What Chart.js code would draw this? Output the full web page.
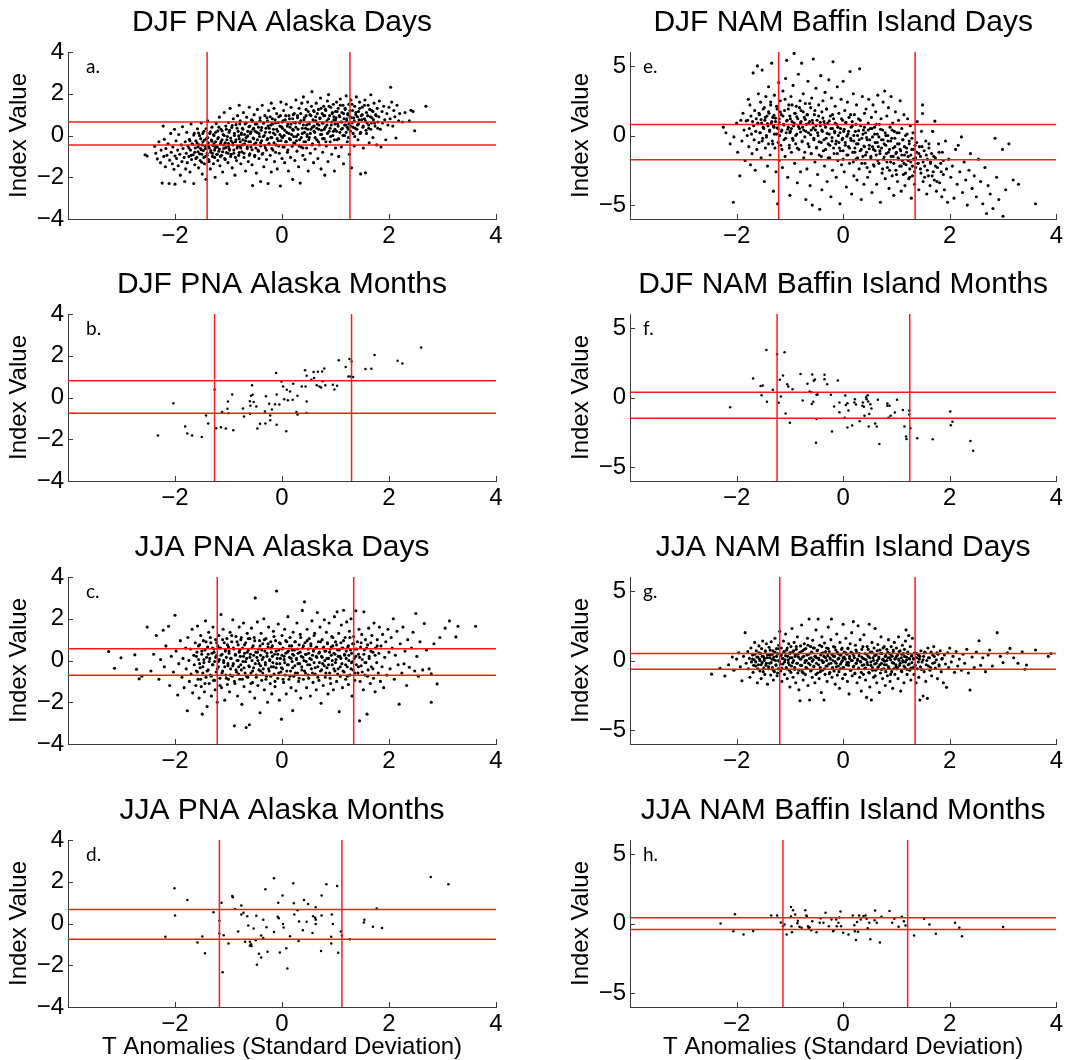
<!DOCTYPE html>
<html>
<head>
<meta charset="utf-8">
<script src="https://cdn.jsdelivr.net/npm/chart.js@4.4.1/dist/chart.umd.min.js"></script>
<style>
  body { margin: 0; background: #fff; width: 1066px; height: 1060px; overflow: hidden; position: relative; }
  .panel { position: absolute; }
</style>
</head>
<body>
<script>
// ---- data ----
// days clouds (T anomaly, index value): spread of each cloud ...
const djfPnaDays = [
  [-2.56,-0.92],[-2.52,-0.98],[-2.38,-0.52],[-2.36,-0.85],[-2.33,-1.12],[-2.3,-0.3],[-2.27,-1.3],[-2.26,-0.7],[-2.24,-2.28],[-2.22,0.45],[-2.21,-1.0],[-2.2,-0.18],
  [-2.18,-1.5],[-2.17,-0.62],[-2.15,-0.95],[-2.13,-0.4],[-2.11,-2.3],[-2.1,-1.18],[-2.08,0.1],[-2.07,-0.8],[-2.05,-1.35],[-2.04,-0.55],[-2.02,-1.62],[-2.01,0.3],[-2.0,-0.98],[-2.0,-2.33],
  [-1.98,-0.25],[-1.97,-1.1],[-1.95,-0.7],[-1.94,-1.45],[-1.93,0.05],[-1.91,-0.9],[-1.9,-1.9],[-1.88,-0.45],[-1.87,-1.25],[-1.86,0.42],[-1.85,-0.62],[-1.83,-1.05],[-1.82,-2.2],[-1.81,-0.3],[-1.8,-1.6],
  [-1.79,-0.85],[-1.78,0.15],[-1.77,-1.3],[-1.76,-0.5],[-1.74,-1.0],[-1.73,-0.18],[-1.72,-1.75],[-1.71,-0.7],[-1.7,0.55],[-1.69,-1.15],[-1.68,-0.4],[-1.66,-0.92],[-1.65,-2.3],[-1.64,0.1],[-1.63,-1.4],[-1.62,-0.6],[-1.61,-0.25],
  [-1.59,-1.05],[-1.58,0.32],[-1.57,-0.78],[-1.56,-1.55],[-1.55,-0.45],[-1.54,0.0],[-1.53,-1.2],[-1.52,-0.62],[-1.51,0.6],[-1.5,-0.9],[-1.49,-1.85],[-1.48,-0.3],[-1.47,-0.72],[-1.46,0.2],[-1.45,-1.35],[-1.44,-0.5],[-1.43,-1.0],[-1.42,-2.1],[-1.41,-0.15],[-1.4,-0.85],
  [-1.39,0.7],[-1.38,-0.35],[-1.37,-1.15],[-1.36,-0.6],[-1.35,0.1],[-1.34,-1.6],[-1.33,-0.8],[-1.32,-0.22],[-1.31,0.4],[-1.3,-1.0],[-1.29,-0.48],[-1.28,-1.35],[-1.27,0.0],[-1.26,-0.7],[-1.25,-2.0],[-1.24,-0.3],[-1.23,0.58],[-1.22,-0.9],[-1.21,-0.55],[-1.2,-1.2],[-1.2,0.22],
  [-1.19,-0.1],[-1.18,-0.75],[-1.17,0.88],[-1.16,-1.45],[-1.15,-0.4],[-1.14,0.3],[-1.13,-0.95],[-1.12,-0.2],[-1.11,-1.75],[-1.1,0.05],[-1.09,-0.62],[-1.08,1.1],[-1.07,-1.1],[-1.06,-0.35],[-1.05,0.45],[-1.04,-0.82],[-1.03,-2.3],[-1.02,-0.05],[-1.01,-1.3],[-1.0,0.62],[-1.0,-0.5],
  [-0.99,0.15],[-0.98,-0.7],[-0.97,1.3],[-0.96,-1.0],[-0.95,-0.25],[-0.94,0.38],[-0.93,-1.55],[-0.92,-0.45],[-0.91,0.8],[-0.9,-0.85],[-0.89,0.0],[-0.88,-1.9],[-0.87,-0.3],[-0.86,0.52],[-0.85,-1.2],[-0.84,-0.6],[-0.83,0.95],[-0.82,0.2],[-0.81,-0.95],[-0.8,-0.15],[-0.8,1.45],
  [-0.79,-0.5],[-0.78,0.7],[-0.77,-1.35],[-0.76,0.05],[-0.75,-0.78],[-0.74,0.35],[-0.73,-0.2],[-0.72,1.1],[-0.71,-1.05],[-0.7,-0.4],[-0.69,0.55],[-0.68,-1.7],[-0.67,-0.1],[-0.66,0.88],[-0.65,-0.62],[-0.64,0.2],[-0.63,-1.25],[-0.62,-0.3],[-0.61,1.35],[-0.6,0.45],[-0.6,-0.88],
  [-0.59,0.1],[-0.58,-0.55],[-0.57,0.75],[-0.56,-1.4],[-0.55,-2.4],[-0.54,0.3],[-0.53,-0.15],[-0.52,1.0],[-0.51,-0.95],[-0.5,0.55],[-0.49,-0.35],[-0.48,-1.8],[-0.47,0.15],[-0.46,1.25],[-0.45,-0.7],[-0.44,0.4],[-0.43,-1.1],[-0.42,-0.05],[-0.41,0.85],[-0.4,-0.5],[-0.4,-2.2],
  [-0.39,0.25],[-0.38,-0.25],[-0.37,1.45],[-0.36,-0.85],[-0.35,0.6],[-0.34,-1.5],[-0.33,0.0],[-0.32,0.95],[-0.31,-0.6],[-0.3,0.35],[-0.29,-1.15],[-0.28,-0.2],[-0.27,0.7],[-0.26,-2.3],[-0.25,1.2],[-0.24,-0.4],[-0.23,0.15],[-0.22,-0.95],[-0.21,0.5],[-0.2,-1.75],[-0.2,1.55],
  [-0.19,-0.1],[-0.18,0.8],[-0.17,-0.7],[-0.16,0.3],[-0.15,1.3],[-0.14,-1.25],[-0.13,0.05],[-0.12,0.6],[-0.11,-0.45],[-0.1,1.05],[-0.09,-1.6],[-0.08,0.2],[-0.07,-0.25],[-0.06,0.9],[-0.05,-0.85],[-0.04,0.45],[-0.03,-2.42],[-0.02,1.6],[-0.01,-0.05],[0.0,0.65],[0.0,-1.1],
  [0.01,0.35],[0.02,-0.55],[0.03,1.2],[0.04,0.0],[0.05,-1.3],[0.06,0.75],[0.07,-0.3],[0.08,1.5],[0.09,0.15],[0.1,-0.8],[0.11,0.55],[0.12,-1.7],[0.13,0.95],[0.14,-0.15],[0.15,0.4],[0.16,-1.05],[0.17,1.35],[0.18,0.05],[0.19,-0.5],[0.2,0.8],[0.2,-2.1],
  [0.21,0.25],[0.22,-0.35],[0.23,1.05],[0.24,-1.2],[0.25,0.6],[0.26,1.7],[0.27,-0.05],[0.28,-0.75],[0.29,0.95],[0.3,0.3],[0.31,-1.5],[0.32,1.3],[0.33,-0.2],[0.34,-2.28],[0.35,0.7],[0.36,-0.55],[0.37,1.55],[0.38,0.1],[0.39,-0.95],[0.4,0.5],[0.4,1.85],
  [0.41,-0.3],[0.42,0.85],[0.43,-1.15],[0.44,0.35],[0.45,1.25],[0.46,-0.6],[0.47,0.05],[0.48,1.6],[0.49,-1.7],[0.5,0.6],[0.51,-0.1],[0.52,1.0],[0.53,-0.85],[0.54,0.3],[0.55,1.4],[0.56,2.1],[0.57,-0.4],[0.58,0.75],[0.59,-1.3],[0.6,0.45],[0.6,1.15],
  [0.61,0.15],[0.62,-0.65],[0.63,0.9],[0.64,1.55],[0.65,-0.2],[0.66,0.55],[0.67,-1.1],[0.68,1.25],[0.69,0.3],[0.7,-0.45],[0.71,0.8],[0.72,1.8],[0.73,-1.6],[0.74,0.05],[0.75,1.05],[0.76,-0.8],[0.77,0.6],[0.78,1.4],[0.79,-0.15],[0.8,0.95],[0.8,-1.9],
  [0.81,0.4],[0.82,1.2],[0.83,-0.5],[0.84,0.7],[0.85,1.65],[0.86,-1.25],[0.87,1.96],[0.88,0.2],[0.89,0.95],[0.9,-0.3],[0.91,1.35],[0.92,0.5],[0.93,-0.9],[0.94,1.05],[0.95,0.0],[0.96,1.5],[0.97,0.75],[0.98,-1.7],[0.99,0.3],[1.0,1.15],[1.0,-0.6],
  [1.01,0.85],[1.02,1.6],[1.03,-0.2],[1.04,0.55],[1.05,1.3],[1.06,-1.0],[1.07,0.95],[1.08,0.15],[1.09,1.75],[1.1,0.65],[1.11,-0.55],[1.12,1.1],[1.13,0.35],[1.14,1.45],[1.15,-1.35],[1.16,0.8],[1.17,0.0],[1.18,1.25],[1.19,0.5],[1.2,1.9],
  [1.21,0.7],[1.22,-0.3],[1.23,1.05],[1.24,0.3],[1.25,1.5],[1.26,-0.9],[1.27,0.9],[1.28,0.45],[1.29,1.7],[1.3,-1.55],[1.31,0.6],[1.32,1.2],[1.33,0.1],[1.34,0.85],[1.35,-0.5],[1.36,1.4],[1.37,0.35],[1.38,1.0],[1.39,1.85],
  [1.41,0.5],[1.42,-0.2],[1.43,1.15],[1.44,0.75],[1.45,1.6],[1.46,0.1],[1.47,-1.84],[1.48,0.95],[1.5,1.35],[1.51,0.4],[1.52,-0.6],[1.54,0.8],[1.55,1.7],[1.56,-1.79],[1.57,0.25],[1.58,1.1],[1.59,0.6],
  [1.61,1.45],[1.62,0.35],[1.63,-0.35],[1.65,0.9],[1.66,1.95],[1.67,0.6],[1.68,1.2],[1.7,-0.1],[1.71,0.75],[1.72,1.55],[1.74,0.45],[1.75,1.0],[1.77,-0.45],[1.78,1.3],[1.79,0.65],
  [1.81,0.9],[1.82,1.65],[1.84,0.3],[1.85,-0.55],[1.87,1.15],[1.88,0.6],[1.9,1.4],[1.92,0.75],[1.94,-0.2],[1.96,1.05],[1.98,0.5],[2.0,1.35],
  [2.02,0.8],[2.03,2.31],[2.05,1.6],[2.07,0.45],[2.09,1.2],[2.11,0.9],[2.13,-0.12],[2.15,1.45],[2.18,0.7],[2.2,1.05],
  [2.25,0.65],[2.3,1.1],[2.38,0.7],[2.41,1.21],[2.45,1.15],[2.48,0.23],[2.69,1.4]
];
// ... and its dense core
const djfPnaDaysCore = [
  [-1.74,-0.6],[-1.72,-0.25],[-1.7,-0.95],[-1.67,-0.42],[-1.65,0.02],[-1.63,-0.8],[-1.61,-1.1],[-1.59,-0.35],[-1.57,-0.55],[-1.56,0.12],[-1.54,-0.88],[-1.52,-0.15],[-1.51,-0.68],[-1.5,-1.28],
  [-1.49,-0.45],[-1.48,0.1],[-1.46,-1.05],[-1.45,-0.22],[-1.43,-0.62],[-1.42,0.32],[-1.4,-0.95],[-1.39,-0.1],[-1.37,-0.5],[-1.36,-1.25],[-1.34,0.18],[-1.33,-0.72],[-1.31,-0.28],[-1.3,-0.85],[-1.28,0.05],[-1.27,-0.4],[-1.26,-1.05],[-1.25,-0.6],
  [-1.24,0.15],[-1.23,-0.52],[-1.21,-0.9],[-1.2,-0.15],[-1.18,0.4],[-1.17,-0.65],[-1.15,-1.0],[-1.14,-0.3],[-1.12,0.22],[-1.11,-0.78],[-1.09,-0.45],[-1.08,0.0],[-1.06,-1.15],[-1.05,-0.58],[-1.04,0.3],[-1.03,-0.2],[-1.01,-0.85],[-1.0,-0.38],
  [-0.99,-0.62],[-0.98,0.25],[-0.96,-0.12],[-0.95,-0.9],[-0.93,0.48],[-0.92,-0.35],[-0.9,-0.7],[-0.89,0.1],[-0.87,-1.05],[-0.86,-0.2],[-0.84,0.35],[-0.83,-0.5],[-0.81,-0.02],[-0.8,-0.82],[-0.79,0.55],[-0.78,-0.3],[-0.77,-0.6],[-0.76,0.12],
  [-0.74,-0.45],[-0.73,0.3],[-0.71,-0.85],[-0.7,0.05],[-0.68,-0.25],[-0.67,0.6],[-0.65,-0.55],[-0.64,-0.02],[-0.62,0.42],[-0.61,-0.95],[-0.59,-0.3],[-0.58,0.18],[-0.56,-0.68],[-0.55,0.7],[-0.54,-0.12],[-0.53,0.35],[-0.52,-0.42],[-0.51,-1.0],
  [-0.5,0.2],[-0.49,-0.6],[-0.47,0.55],[-0.46,-0.2],[-0.44,-0.75],[-0.43,0.1],[-0.41,0.72],[-0.4,-0.35],[-0.38,0.38],[-0.37,-0.9],[-0.35,-0.05],[-0.34,0.6],[-0.32,-0.48],[-0.31,0.15],[-0.29,-0.7],[-0.28,0.85],[-0.27,-0.15],[-0.26,0.45],
  [-0.25,-0.4],[-0.24,0.35],[-0.22,0.9],[-0.21,-0.1],[-0.19,-0.62],[-0.18,0.55],[-0.16,0.12],[-0.15,-0.35],[-0.13,0.75],[-0.12,-0.8],[-0.1,0.3],[-0.09,-0.15],[-0.07,0.62],[-0.06,-0.5],[-0.04,0.05],[-0.03,0.95],[-0.02,-0.25],[-0.01,0.42],
  [0.01,-0.1],[0.02,0.7],[0.04,-0.55],[0.05,0.25],[0.07,0.95],[0.08,-0.3],[0.1,0.45],[0.11,-0.7],[0.13,0.1],[0.14,0.8],[0.16,-0.2],[0.17,0.55],[0.19,-0.5],[0.2,0.3],[0.21,1.0],[0.22,-0.05],[0.23,0.62],[0.24,-0.38],
  [0.26,0.4],[0.27,-0.25],[0.29,0.85],[0.3,0.05],[0.32,-0.5],[0.33,0.6],[0.35,1.05],[0.36,-0.1],[0.38,0.35],[0.39,-0.6],[0.41,0.75],[0.42,0.15],[0.44,-0.3],[0.45,0.95],[0.46,0.5],[0.47,-0.05],[0.48,0.3],[0.49,1.15],
  [0.5,-0.2],[0.51,0.55],[0.53,0.1],[0.54,0.95],[0.56,-0.45],[0.57,0.4],[0.59,1.2],[0.6,0.2],[0.62,-0.1],[0.63,0.7],[0.65,0.35],[0.66,1.05],[0.68,-0.3],[0.69,0.5],[0.71,0.85],[0.72,0.05],[0.73,1.3],[0.74,0.25],
  [0.75,0.6],[0.76,-0.15],[0.78,0.95],[0.79,0.3],[0.81,1.25],[0.82,-0.3],[0.84,0.5],[0.85,0.1],[0.87,0.8],[0.88,1.4],[0.9,0.35],[0.91,-0.05],[0.93,0.65],[0.94,1.1],[0.96,0.2],[0.97,0.9],[0.98,-0.2],[0.99,0.55],
  [1.0,0.75],[1.02,0.2],[1.03,1.15],[1.05,0.45],[1.06,-0.15],[1.08,0.9],[1.09,1.45],[1.11,0.3],[1.12,0.65],[1.14,0.0],[1.15,1.05],[1.17,0.5],[1.18,1.3],[1.2,0.15],[1.21,0.8],[1.22,0.4],[1.23,1.0],[1.24,-0.1],
  [1.25,0.55],[1.27,1.2],[1.28,0.2],[1.3,0.85],[1.31,1.5],[1.33,0.4],[1.35,0.7],[1.36,-0.05],[1.38,1.1],[1.4,0.3],[1.41,0.9],[1.43,0.55],[1.45,1.3],[1.47,0.15],[1.49,0.75],
  [1.5,1.0],[1.52,0.45],[1.54,1.45],[1.56,0.7],[1.58,0.1],[1.6,0.95],[1.62,0.5],[1.64,1.25],[1.66,0.3],[1.68,0.85],[1.7,1.15],[1.73,0.6],[1.76,0.95],[1.79,0.35]
];

const djfNamDays = [
  [-2.25,0.6],[-2.2,0.2],[-2.12,-0.6],[-2.06,-4.8],[-2.05,-0.1],[-2.0,0.9],[-1.98,-1.2],[-1.94,-2.9],[-1.92,1.1],[-1.9,-0.4],[-1.88,1.6],[-1.86,0.4],[-1.84,-1.8],[-1.82,1.05],[-1.8,0.0],
  [-1.79,1.1],[-1.78,2.6],[-1.77,-0.8],[-1.76,0.5],[-1.75,2.2],[-1.74,-2.1],[-1.73,1.4],[-1.72,0.1],[-1.71,-1.3],[-1.7,1.0],[-1.69,4.5],[-1.68,0.7],[-1.67,-0.3],[-1.66,1.8],[-1.65,-2.5],[-1.64,0.3],[-1.63,1.2],[-1.62,-1.0],[-1.61,5.0],[-1.6,0.85],
  [-1.59,3.0],[-1.58,-0.5],[-1.57,1.5],[-1.56,0.2],[-1.55,2.4],[-1.54,-1.6],[-1.53,0.9],[-1.52,4.7],[-1.51,-0.2],[-1.5,1.9],[-1.49,0.5],[-1.48,-3.3],[-1.47,1.1],[-1.46,-0.9],[-1.45,2.8],[-1.44,0.0],[-1.43,1.4],[-1.42,-2.2],[-1.41,0.7],[-1.4,3.5],[-1.4,-0.6],
  [-1.39,1.6],[-1.38,0.3],[-1.37,-1.4],[-1.36,2.2],[-1.35,0.9],[-1.34,5.2],[-1.33,-0.4],[-1.32,1.3],[-1.31,-4.0],[-1.3,0.6],[-1.29,2.9],[-1.28,-0.9],[-1.27,1.0],[-1.26,-2.6],[-1.25,0.1],[-1.24,1.9],[-1.23,-4.9],[-1.22,0.5],[-1.21,3.8],[-1.2,-1.8],[-1.2,1.2],
  [-1.19,0.0],[-1.18,2.5],[-1.17,-0.7],[-1.16,1.5],[-1.15,0.4],[-1.14,-2.3],[-1.13,3.2],[-1.12,0.8],[-1.11,-0.3],[-1.1,1.8],[-1.09,-1.5],[-1.08,4.1],[-1.07,0.2],[-1.06,5.4],[-1.05,1.1],[-1.04,-3.0],[-1.03,0.6],[-1.02,2.2],[-1.01,-0.9],[-1.0,1.4],[-1.0,-4.3],
  [-0.99,0.3],[-0.98,2.8],[-0.97,-1.2],[-0.96,1.0],[-0.95,-0.2],[-0.94,3.6],[-0.93,0.7],[-0.92,5.9],[-0.91,-2.0],[-0.9,1.6],[-0.89,-0.6],[-0.88,2.1],[-0.87,0.1],[-0.86,-3.4],[-0.85,1.2],[-0.84,4.4],[-0.83,-1.0],[-0.82,0.5],[-0.81,2.5],[-0.8,-2.6],[-0.8,0.9],
  [-0.79,1.8],[-0.78,5.2],[-0.77,-0.4],[-0.76,0.6],[-0.75,3.0],[-0.74,-1.6],[-0.73,1.3],[-0.72,-0.1],[-0.71,2.3],[-0.7,-4.6],[-0.69,0.8],[-0.68,-2.4],[-0.67,1.5],[-0.66,3.9],[-0.65,0.2],[-0.64,-0.8],[-0.63,1.0],[-0.62,-3.6],[-0.61,2.0],[-0.6,0.4],[-0.6,-1.3],
  [-0.59,2.7],[-0.58,-5.0],[-0.57,0.9],[-0.56,5.5],[-0.55,-0.3],[-0.54,1.5],[-0.53,-1.9],[-0.52,0.4],[-0.51,3.4],[-0.5,-0.9],[-0.49,1.1],[-0.48,-2.8],[-0.47,0.0],[-0.46,2.2],[-0.45,-1.4],[-0.44,-5.3],[-0.43,0.7],[-0.42,4.3],[-0.41,-0.5],[-0.4,1.7],[-0.4,-3.9],
  [-0.39,0.3],[-0.38,2.5],[-0.37,-1.1],[-0.36,1.0],[-0.35,-2.2],[-0.34,3.1],[-0.33,0.6],[-0.32,-0.2],[-0.31,1.9],[-0.3,-3.3],[-0.29,0.9],[-0.28,-1.6],[-0.27,4.0],[-0.26,0.1],[-0.25,-0.7],[-0.24,1.4],[-0.23,-4.4],[-0.22,2.7],[-0.21,-0.4],[-0.2,0.5],[-0.2,-2.5],
  [-0.19,5.3],[-0.18,1.2],[-0.17,-1.3],[-0.16,0.2],[-0.15,2.1],[-0.14,-0.6],[-0.13,-3.0],[-0.12,0.8],[-0.11,3.5],[-0.1,-1.8],[-0.09,0.0],[-0.08,1.6],[-0.07,-0.9],[-0.06,-4.9],[-0.05,0.5],[-0.04,2.6],[-0.03,-2.1],[-0.02,-0.3],[-0.01,1.1],[0.0,3.9],[0.0,-1.1],
  [0.01,0.3],[0.02,-2.6],[0.03,1.8],[0.04,-0.5],[0.05,0.9],[0.06,-3.7],[0.07,-1.4],[0.08,2.4],[0.09,0.1],[0.1,-0.8],[0.11,1.3],[0.12,-2.0],[0.13,4.6],[0.14,-0.2],[0.15,0.6],[0.16,-4.2],[0.17,1.0],[0.18,-1.2],[0.19,3.0],[0.2,-0.4],[0.2,-2.9],
  [0.21,1.5],[0.22,-0.9],[0.23,0.3],[0.24,-1.7],[0.25,2.2],[0.26,-3.2],[0.27,0.0],[0.28,-0.6],[0.29,1.2],[0.3,-2.4],[0.31,4.8],[0.32,-1.1],[0.33,0.7],[0.34,-4.6],[0.35,-0.2],[0.36,2.8],[0.37,-1.5],[0.38,0.4],[0.39,-3.5],[0.4,1.6],[0.4,-0.8],
  [0.41,-2.0],[0.42,0.2],[0.43,1.9],[0.44,-1.2],[0.45,-0.3],[0.46,-3.0],[0.47,0.9],[0.48,2.6],[0.49,-0.7],[0.5,-2.6],[0.51,0.5],[0.52,-1.6],[0.53,1.3],[0.54,-4.1],[0.55,-0.1],[0.56,2.2],[0.57,-1.0],[0.58,-2.2],[0.59,0.6],[0.6,-0.5],
  [0.61,1.7],[0.62,-1.4],[0.63,-3.5],[0.64,0.1],[0.65,2.9],[0.66,-0.8],[0.67,-2.0],[0.68,0.8],[0.69,-1.1],[0.7,-4.8],[0.71,1.2],[0.72,-0.3],[0.73,-2.7],[0.74,0.4],[0.75,2.4],[0.76,-1.7],[0.77,-0.6],[0.78,3.2],[0.79,-3.1],[0.8,0.0],
  [0.81,-1.3],[0.82,1.4],[0.83,-2.3],[0.84,-0.4],[0.85,2.0],[0.86,-3.8],[0.87,-1.0],[0.88,0.6],[0.89,-1.9],[0.9,2.8],[0.91,-0.2],[0.92,-2.9],[0.93,0.9],[0.94,-1.5],[0.95,-4.3],[0.96,0.3],[0.97,-0.8],[0.98,1.7],[0.99,-2.5],[1.0,-1.2],
  [1.01,0.2],[1.02,-3.3],[1.03,-1.6],[1.04,1.1],[1.05,-0.6],[1.06,-2.2],[1.07,2.5],[1.08,-1.1],[1.09,-4.0],[1.1,0.5],[1.11,-1.8],[1.12,-0.3],[1.13,-2.8],[1.14,1.5],[1.15,-1.4],[1.16,-3.6],[1.17,0.0],[1.18,-2.1],[1.19,-0.9],
  [1.21,1.2],[1.22,-1.5],[1.23,-3.1],[1.24,-0.4],[1.25,-2.4],[1.26,0.7],[1.27,-1.9],[1.28,-4.5],[1.29,-1.0],[1.3,-2.9],[1.31,0.2],[1.32,-1.7],[1.34,-3.5],[1.35,-0.7],[1.36,-2.3],[1.38,-1.2],[1.39,1.0],
  [1.41,-2.0],[1.42,-3.9],[1.43,-0.8],[1.45,-1.5],[1.46,-2.7],[1.47,0.3],[1.49,2.2],[1.49,1.58],[1.5,-3.3],[1.52,-1.1],[1.53,-2.2],[1.55,-0.4],[1.57,-4.2],[1.58,-1.7],[1.6,-2.9],
  [1.61,-0.9],[1.63,-3.6],[1.64,-2.0],[1.66,-1.3],[1.68,0.3],[1.69,-2.6],[1.71,-3.2],[1.72,1.03],[1.73,-1.6],[1.75,-4.0],[1.77,-2.3],[1.79,-0.6],
  [1.81,-3.4],[1.83,-2.0],[1.85,-4.4],[1.86,-1.2],[1.88,-2.8],[1.9,-3.9],[1.92,-0.4],[1.94,-2.4],[1.96,-4.8],[1.98,-1.7],
  [2.02,-3.0],[2.05,-2.2],[2.08,-4.5],[2.11,-1.0],[2.14,-3.5],[2.16,-0.7],[2.19,-2.6],[2.22,-0.1],[2.24,-4.1],[2.27,-1.9],[2.3,-3.2],[2.33,-5.0],[2.36,-2.5],[2.39,-1.3],
  [2.42,-3.8],[2.46,-2.9],[2.5,-4.4],[2.54,-1.7],[2.58,-3.3],[2.62,-4.9],[2.66,-2.3],[2.69,-5.6],[2.72,-3.6],[2.76,-4.2],[2.81,-5.25],[2.85,-0.2],[2.88,-3.0],[2.92,-4.6],[2.99,-1.0],[3.0,-5.8],[3.05,-3.9],[3.11,-0.6],[3.19,-3.2],[3.29,-3.5],[3.61,-4.9]
];
const djfNamDaysCore = [
  [-1.6,0.9],[-1.58,1.6],[-1.56,0.2],[-1.54,1.15],[-1.52,-0.4],[-1.5,0.6],[-1.48,2.0],[-1.46,1.3],[-1.44,-0.1],[-1.42,0.85],[-1.4,1.7],[-1.38,0.4],[-1.36,2.4],[-1.34,1.0],[-1.32,-0.6],[-1.31,0.7],[-1.3,1.45],
  [-1.29,0.1],[-1.27,1.25],[-1.25,2.1],[-1.24,0.55],[-1.22,-0.5],[-1.2,0.95],[-1.18,1.7],[-1.16,0.3],[-1.15,-1.0],[-1.13,1.4],[-1.11,0.75],[-1.09,2.6],[-1.08,-0.2],[-1.06,1.05],[-1.04,0.45],[-1.03,1.9],[-1.01,-0.7],[-1.0,0.2],
  [-0.99,1.2],[-0.97,0.5],[-0.96,2.2],[-0.94,-0.35],[-0.92,0.9],[-0.91,1.6],[-0.89,0.0],[-0.87,1.35],[-0.86,-0.9],[-0.84,0.65],[-0.82,2.0],[-0.8,0.25],[-0.79,1.0],[-0.77,-0.45],[-0.75,1.7],[-0.74,0.4],[-0.72,-1.2],[-0.71,1.15],
  [-0.7,0.3],[-0.68,1.5],[-0.66,-0.6],[-0.65,0.85],[-0.63,2.3],[-0.61,0.05],[-0.6,-1.3],[-0.58,1.1],[-0.56,0.55],[-0.55,-0.2],[-0.53,1.8],[-0.51,0.7],[-0.5,-0.85],[-0.48,0.2],[-0.46,1.4],[-0.45,-0.45],[-0.43,0.95],[-0.41,-1.5],
  [-0.4,0.4],[-0.38,1.25],[-0.36,-0.3],[-0.35,0.8],[-0.33,-1.0],[-0.31,1.9],[-0.3,0.15],[-0.28,-0.6],[-0.26,1.05],[-0.25,-1.6],[-0.23,0.5],[-0.21,-0.15],[-0.2,1.5],[-0.18,-0.9],[-0.16,0.3],[-0.15,0.9],[-0.13,-0.4],[-0.11,-1.3],
  [-0.1,0.6],[-0.08,-0.5],[-0.06,0.2],[-0.05,-1.1],[-0.03,1.2],[-0.01,-0.2],[0.0,-1.7],[0.02,0.45],[0.04,-0.7],[0.05,0.95],[0.07,-0.05],[0.09,-1.4],[0.1,0.3],[0.12,-0.9],[0.14,1.5],[0.15,-0.35],[0.17,0.7],[0.19,-1.9],
  [0.2,0.0],[0.22,-1.2],[0.24,0.8],[0.25,-0.6],[0.27,-1.6],[0.29,0.35],[0.3,-0.3],[0.32,1.1],[0.34,-1.0],[0.35,-2.0],[0.37,0.1],[0.39,-0.75],[0.4,0.6],[0.42,-1.4],[0.44,-0.15],[0.45,-2.3],[0.47,0.4],[0.49,-0.95],
  [0.5,-0.3],[0.52,-1.5],[0.54,0.5],[0.55,-0.8],[0.57,-2.1],[0.59,0.1],[0.6,-1.1],[0.62,0.8],[0.64,-0.5],[0.65,-1.8],[0.67,-0.1],[0.69,-1.3],[0.7,0.45],[0.72,-0.9],[0.74,-2.4],[0.75,-0.3],[0.77,-1.55],[0.79,0.2],
  [0.8,-0.7],[0.82,-1.9],[0.84,0.0],[0.85,-1.2],[0.87,-2.5],[0.89,-0.4],[0.9,-1.5],[0.92,0.4],[0.94,-0.9],[0.95,-2.0],[0.97,-0.2],[0.99,-1.3],[1.0,-2.8],[1.02,-0.6],[1.04,-1.7],[1.05,0.2],[1.07,-1.0],[1.09,-2.2],
  [1.1,-1.4],[1.12,-0.3],[1.14,-2.0],[1.15,-0.8],[1.17,-2.7],[1.19,-1.2],[1.2,0.1],[1.22,-1.8],[1.24,-0.6],[1.25,-3.0],[1.27,-1.4],[1.29,-0.2],[1.3,-2.2],[1.32,-1.0],[1.34,-2.6],[1.36,-1.6],[1.38,-0.5],[1.4,-2.0],
  [1.42,-1.3],[1.45,-2.4],[1.48,-0.8],[1.5,-1.9],[1.53,-3.0],[1.56,-1.4],[1.58,-2.5],[1.61,-0.6],[1.64,-1.9],[1.67,-2.9],[1.7,-1.5],[1.73,-2.2],[1.76,-3.3],[1.8,-1.2],[1.84,-2.6],[1.88,-1.8]
];

const jjaPnaDays = [
  [-3.24,0.43],[-3.13,-0.37],[-3.01,0.13],[-2.75,0.27],[-2.72,-0.42],[-2.67,-0.88],[-2.62,-0.75],[-2.52,1.6],[-2.45,-0.5],[-2.4,0.3],[-2.35,1.2],[-2.3,-0.9],[-2.27,0.05],[-2.22,1.45],
  [-2.2,-0.3],[-2.17,0.7],[-2.12,1.64],[-2.1,-1.2],[-2.07,0.2],[-2.03,-0.55],[-2.0,2.17],[-1.98,0.45],[-1.95,-1.65],[-1.93,-0.15],[-1.9,0.95],[-1.87,-0.8],[-1.85,0.1],[-1.83,-1.3],[-1.8,0.6],
  [-1.79,-0.4],[-1.77,-2.41],[-1.76,1.1],[-1.74,0.0],[-1.73,-1.0],[-1.71,0.55],[-1.7,-0.65],[-1.68,1.5],[-1.67,-1.55],[-1.65,0.25],[-1.64,-0.2],[-1.62,0.85],[-1.61,-1.2],[-1.6,-0.5],
  [-1.59,0.4],[-1.58,1.65],[-1.57,-0.9],[-1.56,0.05],[-1.55,-1.8],[-1.54,0.75],[-1.53,-0.35],[-1.52,1.2],[-1.51,-1.25],[-1.5,0.3],[-1.49,-2.57],[-1.48,-0.6],[-1.47,0.95],[-1.46,-0.1],[-1.45,-1.5],[-1.44,0.5],[-1.43,1.9],[-1.42,-0.8],[-1.41,0.15],[-1.4,-2.2],
  [-1.39,0.65],[-1.38,-0.45],[-1.37,1.35],[-1.36,-1.1],[-1.35,0.1],[-1.34,-0.7],[-1.33,0.85],[-1.32,-1.7],[-1.31,0.35],[-1.3,-0.2],[-1.29,1.6],[-1.28,-0.95],[-1.27,0.55],[-1.26,-0.05],[-1.25,-1.4],[-1.24,1.0],[-1.23,-0.55],[-1.22,0.25],[-1.21,-2.0],[-1.2,0.7],
  [-1.19,-0.3],[-1.18,1.2],[-1.17,0.05],[-1.16,-0.85],[-1.15,0.6],[-1.14,2.2],[-1.13,-1.3],[-1.12,0.3],[-1.11,-0.5],[-1.1,1.5],[-1.09,-0.1],[-1.08,0.85],[-1.07,-1.9],[-1.06,0.45],[-1.05,-0.7],[-1.04,0.15],[-1.03,1.05],[-1.02,-1.15],[-1.01,-0.25],[-1.0,0.65],[-1.0,-0.9],
  [-0.99,0.35],[-0.98,-1.5],[-0.97,1.35],[-0.96,-0.4],[-0.95,0.1],[-0.94,0.9],[-0.93,-0.75],[-0.92,1.95],[-0.91,-0.15],[-0.9,0.55],[-0.89,-3.13],[-0.88,-1.1],[-0.87,0.25],[-0.86,1.15],[-0.85,-0.55],[-0.84,0.0],[-0.83,-1.7],[-0.82,0.75],[-0.81,-0.3],[-0.8,1.6],[-0.8,0.4],
  [-0.79,-0.9],[-0.78,0.2],[-0.77,1.0],[-0.76,-0.45],[-0.75,-2.1],[-0.74,0.6],[-0.73,-0.05],[-0.72,1.8],[-0.71,-1.25],[-0.7,0.35],[-0.69,-0.6],[-0.68,0.85],[-0.67,-3.21],[-0.66,0.1],[-0.65,1.3],[-0.64,-0.8],[-0.63,0.5],[-0.62,-0.25],[-0.61,-3.08],[-0.6,1.05],[-0.6,-1.5],
  [-0.59,0.3],[-0.58,-0.6],[-0.57,1.55],[-0.56,0.0],[-0.55,-1.05],[-0.54,0.7],[-0.53,-0.35],[-0.52,1.1],[-0.51,-1.8],[-0.5,3.0],[-0.49,0.4],[-0.48,-0.7],[-0.47,0.15],[-0.46,1.85],[-0.45,-1.2],[-0.44,0.55],[-0.43,-0.15],[-0.42,0.95],[-0.41,-2.5],[-0.4,0.25],[-0.4,-0.5],
  [-0.39,1.3],[-0.38,-0.95],[-0.37,0.05],[-0.36,0.8],[-0.35,-0.4],[-0.34,2.0],[-0.33,-1.4],[-0.32,0.45],[-0.31,-0.2],[-0.3,1.05],[-0.29,-0.75],[-0.28,0.2],[-0.27,-2.0],[-0.26,0.65],[-0.25,1.6],[-0.24,-0.5],[-0.23,0.0],[-0.22,-1.1],[-0.21,0.9],[-0.2,-0.3],[-0.2,0.4],
  [-0.19,-1.6],[-0.18,0.7],[-0.17,-0.1],[-0.16,1.4],[-0.15,-0.65],[-0.14,0.3],[-0.13,-1.25],[-0.12,0.95],[-0.11,-0.35],[-0.1,3.33],[-0.09,0.1],[-0.08,-0.85],[-0.07,1.75],[-0.06,0.5],[-0.05,-1.9],[-0.04,-0.15],[-0.03,0.8],[-0.02,-0.55],[-0.01,-2.81],[0.0,0.25],[0.0,1.2],
  [0.01,-0.4],[0.02,0.6],[0.03,-1.05],[0.04,0.05],[0.05,1.5],[0.06,-0.7],[0.07,0.35],[0.08,-1.6],[0.09,0.9],[0.1,-0.2],[0.11,2.1],[0.12,0.45],[0.13,-0.9],[0.14,0.15],[0.15,1.1],[0.16,-0.5],[0.17,-1.3],[0.18,0.7],[0.19,-0.05],[0.2,-2.4],[0.2,0.3],
  [0.21,1.35],[0.22,-0.75],[0.23,0.5],[0.24,-0.25],[0.25,0.9],[0.26,-1.45],[0.27,0.1],[0.28,1.8],[0.29,-0.6],[0.3,0.35],[0.31,-1.0],[0.32,0.75],[0.33,-0.15],[0.34,1.25],[0.35,-1.8],[0.36,0.2],[0.37,-0.45],[0.38,2.4],[0.39,0.6],[0.4,-0.9],
  [0.41,0.0],[0.42,2.81],[0.43,0.85],[0.44,-0.6],[0.45,0.3],[0.46,-1.3],[0.47,1.5],[0.48,-0.2],[0.49,0.55],[0.5,-0.85],[0.51,1.05],[0.52,0.1],[0.53,-1.7],[0.54,0.7],[0.55,-0.4],[0.56,1.9],[0.57,0.25],[0.58,-1.05],[0.59,0.45],[0.6,-0.1],
  [0.61,1.3],[0.62,-0.65],[0.63,0.6],[0.64,-1.4],[0.65,0.15],[0.66,2.3],[0.67,-0.3],[0.68,0.9],[0.69,-0.95],[0.7,0.4],[0.71,1.6],[0.72,-0.5],[0.73,-2.05],[0.74,0.2],[0.75,1.0],[0.76,-0.15],[0.77,-1.2],[0.78,0.65],[0.79,1.95],[0.8,0.0],
  [0.81,-0.8],[0.82,0.45],[0.83,1.35],[0.84,-0.35],[0.85,0.8],[0.86,-1.6],[0.87,0.1],[0.88,1.8],[0.89,-0.6],[0.9,0.55],[0.91,-1.1],[0.92,0.25],[0.93,1.15],[0.94,-0.2],[0.95,0.7],[0.96,-1.4],[0.97,0.35],[0.98,2.1],[0.99,-0.5],[1.0,0.9],
  [1.01,0.05],[1.02,-1.0],[1.03,2.33],[1.04,0.5],[1.05,-0.4],[1.06,1.3],[1.07,-2.45],[1.08,0.2],[1.09,-0.75],[1.1,0.85],[1.11,1.7],[1.12,-0.15],[1.13,-1.3],[1.14,0.6],[1.15,2.41],[1.16,-0.55],[1.17,0.3],[1.18,1.1],[1.19,-0.9],[1.2,0.1],
  [1.21,1.85],[1.22,-0.3],[1.23,0.65],[1.24,-1.15],[1.25,0.25],[1.26,1.4],[1.27,-0.7],[1.28,0.5],[1.29,2.0],[1.3,-0.1],[1.31,-1.7],[1.32,0.8],[1.33,-0.45],[1.34,1.15],[1.35,0.1],[1.36,-0.95],[1.37,0.55],[1.38,2.38],[1.39,-0.2],
  [1.41,0.9],[1.42,-0.6],[1.43,0.3],[1.44,1.5],[1.45,-2.89],[1.46,-1.0],[1.47,0.65],[1.48,-0.25],[1.49,1.25],[1.5,0.05],[1.52,-1.4],[1.53,2.33],[1.54,0.5],[1.55,-0.7],[1.56,1.0],[1.57,-0.1],[1.59,-2.57],[1.6,0.75],
  [1.61,-0.45],[1.62,1.55],[1.63,0.2],[1.65,-1.1],[1.66,0.85],[1.67,-0.3],[1.68,1.2],[1.7,0.4],[1.71,-0.85],[1.72,1.8],[1.74,-1.5],[1.75,0.6],[1.77,-0.1],[1.78,1.0],[1.8,-0.6],
  [1.81,0.35],[1.82,1.6],[1.84,-1.0],[1.85,0.7],[1.87,-0.3],[1.88,1.25],[1.9,-1.3],[1.92,0.15],[1.94,0.9],[1.96,-0.7],[1.98,1.5],[2.0,0.4],
  [2.02,-0.4],[2.04,1.1],[2.06,0.6],[2.08,2.0],[2.1,-0.9],[2.12,0.25],[2.15,1.4],[2.17,-0.2],[2.19,-2.09],[2.21,0.8],[2.24,-0.6],[2.26,1.6],[2.28,-0.16],[2.3,0.45],[2.33,-1.2],[2.35,1.0],[2.38,-0.32],
  [2.42,0.6],[2.45,1.35],[2.48,-0.5],[2.5,2.25],[2.52,0.2],[2.55,-0.75],[2.58,0.9],[2.63,-0.45],[2.66,1.77],[2.7,0.5],[2.75,-0.4],[2.79,-0.64],[2.79,-2.0],[2.84,0.8],[2.9,-1.12],[2.95,1.1],[3.05,1.55],[3.13,1.9],[3.25,1.13],[3.29,1.64],[3.62,1.64]
];
const jjaPnaDaysCore = [
  [-1.6,0.2],[-1.58,-0.55],[-1.56,0.7],[-1.54,-0.15],[-1.52,-0.9],[-1.5,0.45],[-1.48,-0.3],[-1.46,0.05],[-1.44,-1.1],[-1.42,0.9],[-1.4,-0.5],[-1.38,0.3],[-1.36,-0.05],[-1.34,1.1],[-1.32,-0.75],[-1.3,0.6],
  [-1.29,-0.2],[-1.27,0.4],[-1.26,-0.95],[-1.24,0.15],[-1.22,0.85],[-1.21,-0.4],[-1.19,-0.05],[-1.17,0.6],[-1.16,-1.2],[-1.14,0.25],[-1.12,-0.6],[-1.11,1.0],[-1.09,0.0],[-1.07,-0.3],[-1.06,0.5],[-1.04,-0.85],[-1.02,0.75],[-1.01,-0.15],
  [-0.99,0.45],[-0.97,-0.7],[-0.96,0.1],[-0.94,1.2],[-0.92,-0.25],[-0.91,0.6],[-0.89,-1.0],[-0.87,0.3],[-0.86,-0.45],[-0.84,0.9],[-0.82,0.0],[-0.81,-0.65],[-0.79,0.5],[-0.77,-0.2],[-0.76,1.1],[-0.74,-0.9],[-0.72,0.2],[-0.71,-0.35],
  [-0.7,0.75],[-0.68,-0.05],[-0.66,-0.75],[-0.65,0.4],[-0.63,1.05],[-0.61,-0.3],[-0.6,0.15],[-0.58,-1.1],[-0.56,0.6],[-0.55,-0.5],[-0.53,0.25],[-0.51,0.95],[-0.5,-0.15],[-0.48,-0.8],[-0.46,0.4],[-0.45,0.0],[-0.43,-0.45],[-0.41,0.7],
  [-0.4,-0.25],[-0.38,0.5],[-0.36,-0.6],[-0.35,0.15],[-0.33,1.0],[-0.31,-0.1],[-0.3,-0.9],[-0.28,0.35],[-0.26,0.8],[-0.25,-0.4],[-0.23,0.05],[-0.21,-0.75],[-0.2,0.6],[-0.18,0.2],[-0.16,-0.3],[-0.15,1.15],[-0.13,-1.0],[-0.11,0.45],
  [-0.1,-0.15],[-0.08,0.3],[-0.06,-0.6],[-0.05,0.85],[-0.03,0.1],[-0.01,-0.35],[0.0,0.55],[0.02,-0.9],[0.04,0.2],[0.05,-0.1],[0.07,0.95],[0.09,-0.5],[0.1,0.4],[0.12,-0.2],[0.14,0.7],[0.15,-0.75],[0.17,0.1],[0.19,0.5],
  [0.2,-0.35],[0.22,0.25],[0.24,0.9],[0.25,-0.6],[0.27,0.05],[0.29,0.55],[0.3,-0.15],[0.32,-0.85],[0.34,0.4],[0.35,1.1],[0.37,-0.3],[0.39,0.15],[0.4,0.7],[0.42,-0.5],[0.44,0.3],[0.45,-0.05],[0.47,0.95],[0.49,-0.7],
  [0.5,0.35],[0.52,-0.2],[0.54,0.8],[0.55,0.05],[0.57,-0.6],[0.59,0.5],[0.6,1.2],[0.62,-0.35],[0.64,0.2],[0.65,0.65],[0.67,-0.8],[0.69,0.35],[0.7,-0.1],[0.72,0.9],[0.74,-0.45],[0.75,0.15],[0.77,0.6],[0.79,-0.25],
  [0.8,0.45],[0.82,-0.6],[0.84,0.1],[0.85,0.85],[0.87,-0.2],[0.89,0.4],[0.9,-0.85],[0.92,0.65],[0.94,0.0],[0.95,1.1],[0.97,-0.4],[0.99,0.3],[1.0,-0.1],[1.02,0.75],[1.04,-0.65],[1.05,0.2],[1.07,0.5],[1.09,-0.3],
  [1.1,0.1],[1.12,0.6],[1.14,-0.5],[1.15,0.95],[1.17,0.25],[1.19,-0.2],[1.2,0.45],[1.22,-0.75],[1.24,0.7],[1.25,0.0],[1.27,1.1],[1.29,-0.4],[1.3,0.35],[1.32,-0.05],[1.34,0.8],[1.36,-0.6],[1.38,0.2],
  [1.4,0.55],[1.43,-0.3],[1.45,0.15],[1.48,0.85],[1.5,-0.55],[1.53,0.3],[1.55,-0.1],[1.58,0.6],[1.6,-0.75],[1.63,0.1],[1.66,0.45],[1.7,-0.4],[1.74,0.25],[1.78,0.7]
];

const jjaNamDays = [
  [-2.47,-0.98],[-2.31,-0.56],[-2.22,-1.11],[-2.15,-0.3],[-2.08,0.25],[-2.05,-0.7],[-2.0,0.1],[-1.96,0.55],[-1.93,-0.45],[-1.9,-1.45],[-1.87,0.3],[-1.84,2.0],[-1.82,-0.2],
  [-1.79,0.65],[-1.78,-0.6],[-1.76,0.15],[-1.75,-1.2],[-1.73,0.9],[-1.72,-0.1],[-1.7,0.4],[-1.69,-0.85],[-1.67,0.05],[-1.66,1.3],[-1.64,-0.4],[-1.63,0.7],[-1.61,-1.6],[-1.6,0.25],
  [-1.59,-0.3],[-1.58,1.05],[-1.57,0.1],[-1.56,-0.75],[-1.55,0.5],[-1.54,-1.3],[-1.53,0.85],[-1.52,-0.15],[-1.51,1.4],[-1.5,0.3],[-1.49,-0.55],[-1.48,0.0],[-1.47,-1.0],[-1.46,0.65],[-1.45,-0.35],[-1.44,1.2],[-1.43,0.2],[-1.42,-1.7],[-1.41,0.45],[-1.4,-0.6],
  [-1.39,0.95],[-1.38,-0.2],[-1.37,0.4],[-1.36,-1.05],[-1.35,1.35],[-1.34,0.1],[-1.33,-0.5],[-1.32,0.7],[-1.31,-1.4],[-1.3,0.25],[-1.29,-0.8],[-1.28,1.6],[-1.27,0.0],[-1.26,-0.3],[-1.25,0.85],[-1.24,-1.1],[-1.23,0.5],[-1.22,-0.6],[-1.21,1.1],[-1.2,-0.05],
  [-1.19,2.1],[-1.18,0.35],[-1.17,-0.75],[-1.16,0.9],[-1.15,-1.5],[-1.14,0.15],[-1.13,-0.25],[-1.12,1.4],[-1.11,0.6],[-1.1,-1.0],[-1.09,0.05],[-1.08,1.9],[-1.07,-0.5],[-1.06,0.75],[-1.05,-1.3],[-1.04,0.3],[-1.03,-0.15],[-1.02,1.2],[-1.01,-0.7],[-1.0,0.5],[-1.0,-1.9],
  [-0.99,0.2],[-0.98,1.0],[-0.97,-0.4],[-0.96,2.3],[-0.95,0.6],[-0.94,-1.2],[-0.93,0.0],[-0.92,1.3],[-0.91,-0.65],[-0.9,0.4],[-0.89,-1.6],[-0.88,0.8],[-0.87,-0.2],[-0.86,1.7],[-0.85,-0.9],[-0.84,0.25],[-0.83,-2.1],[-0.82,0.55],[-0.81,-2.89],[-0.8,1.05],[-0.8,-0.35],
  [-0.79,0.1],[-0.78,2.55],[-0.77,-0.8],[-0.76,0.7],[-0.75,-1.4],[-0.74,0.3],[-0.73,1.2],[-0.72,-0.15],[-0.71,-1.0],[-0.7,0.85],[-0.69,0.0],[-0.68,-0.55],[-0.67,1.6],[-0.66,-1.8],[-0.65,0.45],[-0.64,2.98],[-0.63,-2.84],[-0.62,-0.3],[-0.61,1.0],[-0.6,0.2],[-0.6,-0.7],
  [-0.59,0.6],[-0.58,-1.2],[-0.57,1.45],[-0.56,0.05],[-0.55,-0.45],[-0.54,0.9],[-0.53,-1.6],[-0.52,0.3],[-0.51,2.2],[-0.5,-0.2],[-0.49,0.7],[-0.48,-0.9],[-0.47,2.98],[-0.46,0.15],[-0.45,-1.3],[-0.44,1.1],[-0.43,-0.5],[-0.42,0.4],[-0.41,-2.3],[-0.4,0.0],[-0.4,1.7],
  [-0.39,-0.7],[-0.38,0.55],[-0.37,-0.1],[-0.36,-2.84],[-0.35,1.25],[-0.34,-1.0],[-0.33,0.2],[-0.32,-0.4],[-0.31,0.9],[-0.3,-1.5],[-0.29,0.35],[-0.28,2.4],[-0.27,-0.25],[-0.26,0.65],[-0.25,-0.85],[-0.24,0.1],[-0.23,1.5],[-0.22,2.98],[-0.21,-1.2],[-0.2,0.45],[-0.2,-0.5],
  [-0.19,0.0],[-0.18,1.0],[-0.17,-0.75],[-0.16,0.3],[-0.15,-1.7],[-0.14,0.75],[-0.13,-0.2],[-0.12,1.9],[-0.11,-1.05],[-0.1,0.5],[-0.09,-0.4],[-0.08,0.15],[-0.07,-2.0],[-0.06,1.3],[-0.05,-0.6],[-0.04,0.4],[-0.03,-0.1],[-0.02,0.9],[-0.01,-1.3],[0.0,2.6],[0.0,0.2],
  [0.01,-0.5],[0.02,0.6],[0.03,-1.0],[0.04,0.1],[0.05,1.6],[0.06,-0.3],[0.07,0.45],[0.08,-1.5],[0.09,0.85],[0.1,-0.15],[0.11,-2.4],[0.12,0.3],[0.13,1.2],[0.14,-0.7],[0.15,0.0],[0.16,2.0],[0.17,-1.1],[0.18,0.5],[0.19,2.79],[0.2,-0.4],
  [0.21,0.2],[0.22,-0.9],[0.23,1.1],[0.24,-0.2],[0.25,0.65],[0.26,-1.6],[0.27,0.0],[0.28,2.5],[0.29,-0.55],[0.3,0.35],[0.31,-1.2],[0.32,1.5],[0.33,-0.1],[0.34,-2.2],[0.35,0.8],[0.36,-0.35],[0.37,0.15],[0.38,-1.0],[0.39,1.85],[0.4,-0.6],
  [0.41,0.5],[0.42,-1.4],[0.43,0.05],[0.44,-2.65],[0.45,1.0],[0.46,-0.3],[0.47,0.3],[0.48,-0.85],[0.49,2.6],[0.5,-1.9],[0.51,0.6],[0.52,-0.1],[0.53,-2.84],[0.54,1.3],[0.55,-0.5],[0.56,0.2],[0.57,-1.2],[0.58,0.9],[0.59,-0.25],[0.6,2.3],
  [0.61,-0.7],[0.62,0.4],[0.63,-1.6],[0.64,0.0],[0.65,1.15],[0.66,-0.45],[0.67,0.25],[0.68,-2.3],[0.69,0.75],[0.7,-0.9],[0.71,1.7],[0.72,-0.2],[0.73,0.5],[0.74,-1.3],[0.75,0.1],[0.76,-0.6],[0.77,1.0],[0.78,-0.05],[0.79,-1.8],[0.8,0.35],
  [0.81,-0.3],[0.82,0.8],[0.83,-1.1],[0.84,0.2],[0.85,1.5],[0.86,-0.55],[0.87,0.5],[0.88,-1.5],[0.89,0.05],[0.9,1.0],[0.91,-0.8],[0.92,0.3],[0.93,-2.0],[0.94,0.65],[0.95,-0.2],[0.96,1.3],[0.97,-1.0],[0.98,0.15],[0.99,-0.45],[1.0,0.9],
  [1.01,-0.6],[1.02,0.4],[1.03,-1.3],[1.04,1.7],[1.05,0.0],[1.06,-0.35],[1.07,0.7],[1.08,-2.2],[1.09,0.2],[1.1,-0.8],[1.11,1.1],[1.12,-0.1],[1.13,0.5],[1.14,-1.6],[1.15,0.3],[1.16,-0.5],[1.17,1.4],[1.18,2.2],[1.19,0.05],[1.2,-1.0],
  [1.21,0.6],[1.22,-0.3],[1.23,1.8],[1.24,0.15],[1.25,-0.7],[1.26,1.0],[1.27,-1.4],[1.28,0.35],[1.29,-0.15],[1.3,1.6],[1.31,-0.5],[1.32,0.1],[1.33,-1.0],[1.34,0.55],[1.35,-0.3],[1.37,-1.6],[1.38,0.2],[1.39,-0.6],
  [1.41,0.4],[1.42,-1.2],[1.43,0.1],[1.44,-2.84],[1.45,-0.45],[1.46,0.7],[1.48,-0.1],[1.5,-2.55],[1.51,0.3],[1.52,-0.8],[1.54,0.55],[1.55,-1.5],[1.57,0.0],[1.58,-2.72],[1.59,0.9],[1.6,-0.4],
  [1.62,0.2],[1.63,-0.7],[1.65,0.6],[1.66,-1.1],[1.68,-0.2],[1.7,1.0],[1.71,0.3],[1.73,-0.55],[1.75,0.05],[1.77,-1.3],[1.78,0.45],[1.8,-0.3],
  [1.82,0.7],[1.84,-0.8],[1.86,0.15],[1.88,-1.6],[1.9,0.4],[1.92,-0.25],[1.94,-1.93],[1.96,0.55],[1.98,-0.5],[2.0,0.9],[2.03,-0.1],[2.06,0.3],[2.09,-0.85],[2.12,0.65],[2.15,-0.4],[2.18,0.1],
  [2.22,-0.7],[2.25,0.45],[2.28,-0.2],[2.32,0.8],[2.35,-0.9],[2.38,-2.12],[2.42,0.25],[2.46,-0.5],[2.5,0.6],[2.55,1.42],[2.58,-0.35],[2.62,0.2],[2.67,-0.8],[2.72,0.4],[2.75,0.75],[2.8,-0.4],[2.89,2.0],[2.95,0.3],[3.0,-0.15],[3.08,0.55],[3.13,0.87],[3.2,0.2],[3.28,-0.2],[3.36,0.63],[3.41,-0.63],[3.44,-0.32],[3.61,0.75],[3.85,0.3],[3.9,0.5]
];
const jjaNamDaysCore = [
  [-1.7,0.1],[-1.68,-0.35],[-1.66,0.45],[-1.64,-0.1],[-1.62,0.25],[-1.6,-0.6],[-1.58,0.55],[-1.56,0.0],[-1.54,-0.3],[-1.52,0.3],[-1.5,-0.8],[-1.48,0.15],[-1.46,0.7],[-1.44,-0.2],[-1.42,0.4],
  [-1.4,-0.45],[-1.38,0.2],[-1.37,0.75],[-1.35,-0.15],[-1.33,0.45],[-1.31,-0.7],[-1.3,0.05],[-1.28,0.6],[-1.26,-0.35],[-1.25,0.3],[-1.23,-0.9],[-1.21,0.0],[-1.2,0.85],[-1.18,-0.25],[-1.16,0.4],[-1.15,-0.55],[-1.13,0.15],[-1.11,0.65],
  [-1.1,-0.1],[-1.08,0.35],[-1.06,-0.6],[-1.05,0.9],[-1.03,0.05],[-1.01,-0.3],[-1.0,0.55],[-0.98,-0.85],[-0.96,0.2],[-0.95,-0.15],[-0.93,0.7],[-0.91,-0.5],[-0.9,0.3],[-0.88,1.0],[-0.86,-0.2],[-0.85,0.45],[-0.83,-0.7],[-0.81,0.1],
  [-0.8,0.6],[-0.78,-0.35],[-0.76,0.25],[-0.75,-0.9],[-0.73,0.8],[-0.71,0.0],[-0.7,-0.5],[-0.68,0.4],[-0.66,1.1],[-0.65,-0.2],[-0.63,0.15],[-0.61,-0.75],[-0.6,0.55],[-0.58,-0.05],[-0.56,0.9],[-0.55,-0.4],[-0.53,0.3],[-0.51,-1.0],
  [-0.5,0.2],[-0.48,0.75],[-0.46,-0.3],[-0.45,0.05],[-0.43,-0.8],[-0.41,0.5],[-0.4,1.0],[-0.38,-0.15],[-0.36,0.3],[-0.35,-0.6],[-0.33,0.65],[-0.31,0.0],[-0.3,-0.4],[-0.28,0.85],[-0.26,-0.95],[-0.25,0.2],[-0.23,-0.2],[-0.21,0.45],
  [-0.2,-0.6],[-0.18,0.3],[-0.16,0.95],[-0.15,-0.1],[-0.13,-0.45],[-0.11,0.6],[-0.1,0.1],[-0.08,-0.8],[-0.06,0.4],[-0.05,-0.25],[-0.03,0.8],[-0.01,0.0],[0.0,-0.5],[0.02,0.25],[0.04,-1.0],[0.05,0.55],[0.07,-0.15],[0.09,0.9],
  [0.1,-0.35],[0.12,0.15],[0.14,-0.7],[0.15,0.6],[0.17,0.0],[0.19,-0.45],[0.2,0.35],[0.22,-0.95],[0.24,0.75],[0.25,-0.2],[0.27,0.1],[0.29,-0.6],[0.3,0.5],[0.32,-0.05],[0.34,-0.85],[0.35,0.25],[0.37,1.0],[0.39,-0.3],
  [0.4,0.1],[0.42,-0.55],[0.44,0.45],[0.45,-0.15],[0.47,0.8],[0.49,-0.9],[0.5,0.2],[0.52,-0.35],[0.54,0.6],[0.55,-0.7],[0.57,0.0],[0.59,0.35],[0.6,-1.1],[0.62,-0.2],[0.64,0.7],[0.65,-0.5],[0.67,0.15],[0.69,-0.3],
  [0.7,0.5],[0.72,-0.65],[0.74,0.05],[0.75,0.9],[0.77,-0.3],[0.79,0.3],[0.8,-0.8],[0.82,0.0],[0.84,0.6],[0.85,-0.45],[0.87,0.2],[0.89,-1.0],[0.9,0.4],[0.92,-0.15],[0.94,0.75],[0.95,-0.6],[0.97,0.1],[0.99,-0.3],
  [1.0,0.3],[1.02,-0.5],[1.04,0.1],[1.05,0.65],[1.07,-0.2],[1.09,-0.75],[1.1,0.45],[1.12,0.0],[1.14,-0.4],[1.15,0.8],[1.17,-0.1],[1.19,0.25],[1.2,-0.65],[1.22,0.5],[1.24,-0.25],[1.25,0.1],[1.27,-0.55],[1.29,0.35],
  [1.32,0.15],[1.35,-0.4],[1.38,0.5],[1.41,-0.1],[1.44,0.3],[1.47,-0.65],[1.5,0.05],[1.53,0.6],[1.56,-0.3],[1.6,0.2],[1.64,-0.5],[1.68,0.4],[1.72,-0.15],[1.76,0.55],[1.8,-0.4],[1.85,0.1]
];

// monthly means
const djfPnaMonths = [
  [-2.32,-1.82],[-2.03,-0.27],[-1.81,-1.39],[-1.77,-1.73],[-1.68,-1.82],[-1.5,-1.89],[-1.42,-0.86],[-1.38,-1.25],[-1.26,0.38],[-1.23,-1.47],
  [-1.14,-1.42],[-1.12,-0.7],[-1.05,-1.49],[-1.01,-0.19],[-1.02,-0.54],[-1.0,-0.75],[-0.93,0.14],[-0.91,-1.57],[-0.73,-0.53],[-0.71,-0.91],
  [-0.6,-0.78],[-0.6,-0.18],[-0.59,-0.4],[-0.58,0.08],[-0.56,0.59],[-0.55,0.13],[-0.53,-0.22],[-0.48,-0.43],[-0.46,-1.49],[-0.41,-1.26],
  [-0.32,-0.67],[-0.31,-1.25],[-0.3,0.06],[-0.24,-0.3],[-0.22,-0.86],[-0.22,-1.09],[-0.19,-0.58],[-0.13,-0.32],[-0.11,1.17],[-0.1,0.14],
  [-0.1,-1.31],[-0.05,-0.34],[-0.01,0.77],[0.02,0.53],[0.04,-0.08],[0.08,-1.62],[0.09,0.37],[0.11,-0.13],[0.15,0.29],[0.21,0.66],
  [0.2,-0.11],[0.27,-0.7],[0.29,-0.82],[0.29,0.08],[0.37,0.53],[0.43,1.31],[0.44,0.53],[0.46,1.04],[0.46,-0.19],[0.46,-0.74],
  [0.55,0.85],[0.59,1.22],[0.6,0.94],[0.65,0.59],[0.67,1.23],[0.7,0.53],[0.73,0.48],[0.75,1.25],[0.76,0.78],[0.79,1.39],
  [0.81,0.59],[0.95,0.61],[0.98,0.38],[1.03,0.56],[1.06,1.78],[1.19,1.46],[1.24,1.01],[1.26,1.84],[1.28,1.01],[1.3,1.73],
  [1.33,0.98],[1.56,1.36],[1.67,1.38],[1.73,2.03],[2.16,1.76],[2.25,1.63],[2.6,2.4]
];

const djfNamMonths = [
  [-2.12,-0.7],[-1.69,1.37],[-1.55,0.82],[-1.51,0.86],[-1.53,0.17],[-1.44,3.41],[-1.43,-0.31],[-1.32,0.55],[-1.24,3.1],[-1.21,-0.38],
  [-1.19,1.27],[-1.17,0.07],[-1.13,1.58],[-1.1,3.26],[-1.08,-1.15],[-1.05,0.96],[-1.03,0.79],[-1.0,-1.82],[-0.95,0.6],[-0.8,1.68],
  [-0.76,-0.22],[-0.67,0.98],[-0.63,0.43],[-0.6,0.38],[-0.58,1.66],[-0.59,-0.46],[-0.56,-0.31],[-0.55,1.2],[-0.53,1.3],[-0.5,0.19],
  [-0.48,0.22],[-0.5,-1.54],[-0.51,-3.26],[-0.35,1.63],[-0.35,1.32],[-0.3,0.96],[-0.23,0.19],[-0.21,-2.45],[-0.17,-0.65],[-0.1,1.22],
  [-0.07,-0.36],[-0.07,-1.06],[0.03,-1.46],[0.04,0.14],[0.05,-0.53],[0.08,-0.41],[0.08,-2.16],[0.1,-0.94],[0.17,-2.02],[0.21,-0.36],
  [0.22,-0.12],[0.24,-0.5],[0.31,-1.7],[0.36,-0.6],[0.37,-0.36],[0.39,-0.67],[0.4,-1.32],[0.43,0.02],[0.44,-0.12],[0.46,0.17],
  [0.47,-0.29],[0.49,-1.18],[0.48,-2.09],[0.51,-0.48],[0.53,-0.79],[0.6,-1.87],[0.63,-2.09],[0.65,-0.17],[0.68,-3.34],[0.83,-0.43],
  [0.83,-0.6],[0.85,-1.46],[0.87,-0.6],[0.89,-1.32],[0.97,-1.08],[1.01,-0.17],[1.12,-0.89],[1.15,-2.09],[1.19,-2.98],[1.18,-2.81],
  [1.24,-0.94],[1.24,-1.22],[1.26,-2.21],[1.39,-2.93],[1.68,-3.0],[2.01,-1.01],[2.02,-1.99],[2.05,-1.75],[2.39,-3.12],[2.44,-3.82]
];

const jjaPnaMonths = [
  [-2.18,-0.64],[-2.01,1.69],[-2.0,0.38],[-1.77,1.12],[-1.58,-0.91],[-1.49,-0.62],[-1.44,-1.43],[-1.28,0.54],[-1.17,0.13],[-1.17,-0.48],
  [-1.13,1.0],[-1.11,-2.33],[-1.09,-0.56],[-1.0,-0.96],[-0.93,1.32],[-0.92,1.26],[-0.88,0.7],[-0.82,-0.38],[-0.76,0.86],[-0.76,0.43],
  [-0.72,0.51],[-0.69,-0.88],[-0.65,0.35],[-0.63,-0.1],[-0.6,-0.88],[-0.6,-1.07],[-0.58,-0.99],[-0.57,-1.08],[-0.53,-0.24],[-0.49,-0.8],
  [-0.48,0.37],[-0.47,-1.98],[-0.43,-1.45],[-0.39,-1.63],[-0.39,-0.57],[-0.35,-0.7],[-0.35,0.18],[-0.31,1.64],[-0.29,-0.18],[-0.27,-1.35],
  [-0.15,-0.41],[-0.15,2.17],[-0.08,0.32],[-0.07,1.0],[-0.06,0.25],[-0.04,-1.39],[0.01,1.34],[0.02,-0.02],[0.03,-0.19],[0.08,-1.18],
  [0.1,-2.15],[0.15,-0.61],[0.21,1.93],[0.22,0.97],[0.23,0.43],[0.29,0.64],[0.31,-0.84],[0.32,0.1],[0.39,-0.32],[0.41,1.13],
  [0.46,0.08],[0.49,0.94],[0.57,-0.45],[0.58,0.35],[0.62,0.27],[0.63,-0.02],[0.63,0.78],[0.63,0.18],[0.73,-1.32],[0.74,1.34],
  [0.74,0.38],[0.83,1.88],[0.92,-0.64],[0.92,-0.96],[0.93,0.43],[0.95,-0.02],[1.03,1.8],[1.05,-1.4],[1.1,-0.38],[1.12,-0.57],
  [1.27,-0.75],[1.53,0.05],[1.54,0.18],[1.7,-0.16],[1.77,0.72],[1.87,-0.22],[2.78,2.23],[3.11,1.88]
];

const jjaNamMonths = [
  [-2.3,0.0],[-2.06,-0.55],[-2.03,0.67],[-1.87,-0.79],[-1.69,-0.53],[-1.35,0.58],[-1.24,0.58],[-1.17,0.07],[-1.13,-0.19],[-1.1,-0.07],
  [-1.06,-0.79],[-0.98,0.5],[-0.98,1.18],[-0.97,-0.19],[-0.96,-0.62],[-0.94,0.96],[-0.9,0.65],[-0.86,0.02],[-0.85,0.19],[-0.82,-0.24],
  [-0.78,-0.31],[-0.71,0.96],[-0.69,0.58],[-0.68,0.48],[-0.66,-0.19],[-0.65,-0.31],[-0.63,-0.29],[-0.6,-0.48],[-0.58,0.17],[-0.5,-0.62],
  [-0.44,0.05],[-0.42,0.38],[-0.37,0.05],[-0.33,0.77],[-0.27,-0.19],[-0.22,0.29],[-0.19,-0.55],[-0.18,-0.48],[-0.13,0.29],[-0.12,-0.19],
  [-0.09,0.05],[-0.07,0.43],[-0.05,0.86],[-0.04,-0.19],[0.0,-0.67],[0.1,-0.79],[0.18,0.58],[0.21,-0.12],[0.22,-0.55],[0.24,-1.18],
  [0.26,0.1],[0.28,-0.6],[0.3,0.58],[0.33,0.29],[0.38,0.53],[0.42,0.58],[0.44,0.34],[0.46,-0.34],[0.49,0.05],[0.51,-1.13],
  [0.59,0.24],[0.6,0.94],[0.63,0.05],[0.69,-1.37],[0.72,0.48],[0.87,0.89],[0.92,0.05],[0.96,0.34],[1.04,-0.24],[1.1,0.48],
  [1.14,0.17],[1.17,-0.14],[1.33,-0.86],[1.52,0.34],[1.62,-0.07],[1.74,-0.74],[2.1,0.05],[2.18,-0.31],[2.23,-0.91],[3.0,-0.26]
];

// threshold lines per panel: vertical (T anomaly) and horizontal (index)
const vLinesA = [-1.40, 1.27], hLinesA = [0.65, -0.45];
const vLinesB = [-1.26, 1.30], hLinesB = [0.80, -0.75];
const vLinesC = [-1.21, 1.34], hLinesC = [0.56, -0.71];
const vLinesD = [-1.17, 1.12], hLinesD = [0.67, -0.75];
const vLinesE = [-1.21, 1.35], hLinesE = [0.79, -1.74];
const vLinesF = [-1.24, 1.25], hLinesF = [0.38, -1.49];
const vLinesG = [-1.19, 1.35], hLinesG = [0.51, -0.62];
const vLinesH = [-1.13, 1.21], hLinesH = [0.41, -0.43];

const xTicks = [-4, -2, 0, 2, 4];
const pnaYTicks = [-4, -2, 0, 2, 4];
const namYTicks = [-5, 0, 5];

Chart.defaults.font.family = '"Liberation Sans", Arial, Helvetica, sans-serif';
Chart.defaults.color = '#000';

const panels = [
  { letter: 'a', title: 'DJF PNA Alaska Days',          pts: djfPnaDays.concat(djfPnaDaysCore), vx: vLinesA, hy: hLinesA, yLim: 4, yTicks: pnaYTicks, col: 0, row: 0, r: 1.55 },
  { letter: 'b', title: 'DJF PNA Alaska Months',        pts: djfPnaMonths, vx: vLinesB, hy: hLinesB, yLim: 4, yTicks: pnaYTicks, col: 0, row: 1, r: 1.25 },
  { letter: 'c', title: 'JJA PNA Alaska Days',          pts: jjaPnaDays.concat(jjaPnaDaysCore), vx: vLinesC, hy: hLinesC, yLim: 4, yTicks: pnaYTicks, col: 0, row: 2, r: 1.55 },
  { letter: 'd', title: 'JJA PNA Alaska Months',        pts: jjaPnaMonths, vx: vLinesD, hy: hLinesD, yLim: 4, yTicks: pnaYTicks, col: 0, row: 3, r: 1.25 },
  { letter: 'e', title: 'DJF NAM Baffin Island Days',   pts: djfNamDays.concat(djfNamDaysCore), vx: vLinesE, hy: hLinesE, yLim: 6, yTicks: namYTicks, col: 1, row: 0, r: 1.55 },
  { letter: 'f', title: 'DJF NAM Baffin Island Months', pts: djfNamMonths, vx: vLinesF, hy: hLinesF, yLim: 6, yTicks: namYTicks, col: 1, row: 1, r: 1.25 },
  { letter: 'g', title: 'JJA NAM Baffin Island Days',   pts: jjaNamDays.concat(jjaNamDaysCore), vx: vLinesG, hy: hLinesG, yLim: 6, yTicks: namYTicks, col: 1, row: 2, r: 1.55 },
  { letter: 'h', title: 'JJA NAM Baffin Island Months', pts: jjaNamMonths, vx: vLinesH, hy: hLinesH, yLim: 6, yTicks: namYTicks, col: 1, row: 3, r: 1.25 }
];

const rowTop = [0, 262, 525, 788];
const fmt = v => (v < 0 ? '\u2212' + Math.abs(v) : String(v));
const axisColor = '#3a3a3a';

// short inward tick marks + panel letter
const decor = {
  id: 'decor',
  afterDraw(chart) {
    const { ctx, chartArea: a, scales } = chart;
    const p = chart.options.plugins.decor;
    ctx.save();
    ctx.strokeStyle = axisColor;
    ctx.lineWidth = 1;
    ctx.beginPath();
    scales.x.ticks.forEach(t => {
      const px = Math.round(scales.x.getPixelForValue(t.value)) + 0.5;
      ctx.moveTo(px, a.bottom); ctx.lineTo(px, a.bottom - 5);
    });
    scales.y.ticks.forEach(t => {
      const py = Math.round(scales.y.getPixelForValue(t.value)) + 0.5;
      ctx.moveTo(a.left, py); ctx.lineTo(a.left + 5, py);
    });
    ctx.stroke();
    ctx.fillStyle = '#000';
    ctx.font = '19px Lato, "Open Sans", sans-serif';
    ctx.textBaseline = 'alphabetic';
    ctx.fillText(p.letter + '.', a.left + p.dx, a.top + 21);
    ctx.restore();
  }
};

panels.forEach(p => {
  const div = document.createElement('div');
  div.className = 'panel';
  const w = p.col ? 504 : 530;
  const h = p.row === 3 ? 274 : 255;
  div.style.left = (p.col ? 562 : 0) + 'px';
  div.style.top = rowTop[p.row] + 'px';
  div.style.width = w + 'px';
  div.style.height = h + 'px';
  const canvas = document.createElement('canvas');
  div.appendChild(canvas);
  document.body.appendChild(div);

  const datasets = [{
    data: p.pts.map(([x, y]) => ({ x, y })),
    pointRadius: p.r,
    pointBackgroundColor: '#000',
    pointBorderWidth: 0,
    showLine: false,
    order: 2
  }];
  p.vx.forEach(v => datasets.push({
    data: [{ x: v, y: -p.yLim }, { x: v, y: p.yLim }],
    showLine: true, borderColor: '#ff1a1a', borderWidth: 1.5, pointRadius: 0, order: 1
  }));
  p.hy.forEach(v => datasets.push({
    data: [{ x: -4, y: v }, { x: 4, y: v }],
    showLine: true, borderColor: '#ff1a1a', borderWidth: 1.5, pointRadius: 0, order: 1
  }));

  new Chart(canvas, {
    type: 'scatter',
    data: { datasets },
    plugins: [decor],
    options: {
      responsive: true,
      maintainAspectRatio: false,
      animation: false,
      events: [],
      layout: { padding: { left: 5, right: p.col ? 9 : 34, top: 0, bottom: 0 } },
      plugins: {
        legend: { display: false },
        tooltip: { enabled: false },
        title: {
          display: true, text: p.title, fullSize: false,
          font: { size: 30, weight: 'normal' }, color: '#000',
          padding: { top: 5, bottom: 11 }
        },
        decor: { letter: p.letter, dx: p.col ? 13 : 18 }
      },
      scales: {
        x: {
          type: 'linear', min: -4, max: 4,
          afterBuildTicks: s => { s.ticks = xTicks.map(v => ({ value: v })); },
          afterFit: s => { s.height = p.row === 3 ? 55 : 36; },
          ticks: {
            font: { size: 24 }, color: '#000', padding: 3, maxRotation: 0,
            callback: v => (v === -4 ? '' : fmt(v))
          },
          grid: { display: false, drawTicks: false },
          border: { display: true, color: axisColor, width: 1 },
          title: {
            display: p.row === 3, text: 'T Anomalies (Standard Deviation)',
            font: { size: 24 }, color: '#000', padding: { top: 0, bottom: 0 }
          }
        },
        y: {
          type: 'linear', min: -p.yLim, max: p.yLim,
          afterBuildTicks: s => { s.ticks = p.yTicks.map(v => ({ value: v })); },
          afterFit: s => { s.width = 63; },
          ticks: { font: { size: 24 }, color: '#000', padding: 4, callback: v => fmt(v) },
          grid: { display: false, drawTicks: false },
          border: { display: true, color: axisColor, width: 1 },
          title: {
            display: true, text: 'Index Value',
            font: { size: 24 }, color: '#000', padding: { top: 0, bottom: 0 }
          }
        }
      }
    }
  });
});
</script>
</body>
</html>
